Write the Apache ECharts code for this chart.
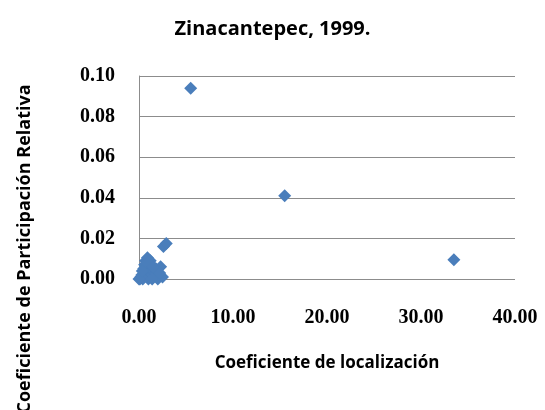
<!DOCTYPE html>
<html>
<head>
<meta charset="utf-8">
<script src="https://cdn.jsdelivr.net/npm/echarts@6/dist/echarts.min.js"></script>
<style>
  html, body { margin: 0; padding: 0; background: #fff; }
  #chart { width: 545px; height: 410px; }
</style>
</head>
<body>
<div id="chart"></div>
<script>
// Coeficiente de localización (x) vs Coeficiente de Participación Relativa (y)
const locCoef = [5.5, 15.5, 33.5, 2.6, 2.9, 0.1, 0.3, 0.5, 0.7, 0.9, 1.1, 1.3, 0.8, 1.6, 2.0, 2.3, 2.5, 1.0, 0.4, 1.8, 0.6, 1.2, 2.2, 0.2, 1.5, 0.0, 0.35, 1.4];
const partCoef = [0.094, 0.041, 0.0095, 0.016, 0.0175, 0.0, 0.002, 0.005, 0.009, 0.0105, 0.008, 0.004, 0.003, 0.002, 0.0, 0.006, 0.001, 0.0, 0.0, 0.005, 0.007, 0.009, 0.003, 0.001, 0.006, 0.0, 0.004, 0.0];
const xTicks = { min: 0, max: 40, step: 10 };
const yTicks = { min: 0, max: 0.1, step: 0.02 };

const TEXT_FONT = "'Open Sans', sans-serif";
const NUM_FONT = "'Liberation Serif', serif";
const MARK_COLOR = "#4a7ebb";
const GRID_COLOR = "#8c8c8c";

const chart = echarts.init(document.getElementById("chart"));

chart.setOption({
  animation: false,
  title: {
    text: "Zinacantepec, 1999.",
    left: "center",
    top: 14,
    textStyle: { fontFamily: TEXT_FONT, fontSize: 20, fontWeight: "bold", color: "#000" },
  },
  grid: { left: 139, right: 30, top: 76, bottom: 131 },
  xAxis: {
    type: "value",
    min: xTicks.min,
    max: xTicks.max,
    interval: xTicks.step,
    name: "Coeficiente de localización",
    nameLocation: "middle",
    nameGap: 76,
    nameTextStyle: { fontFamily: TEXT_FONT, fontSize: 17, fontWeight: "bold", color: "#000" },
    axisLine: { show: false },
    axisTick: { show: false },
    splitLine: { show: false },
    axisLabel: {
      margin: 29,
      fontFamily: NUM_FONT,
      fontSize: 20,
      fontWeight: "bold",
      color: "#000",
      formatter: (v) => v.toFixed(2),
    },
  },
  yAxis: {
    type: "value",
    min: yTicks.min,
    max: yTicks.max,
    interval: yTicks.step,
    axisLine: { show: true, lineStyle: { color: GRID_COLOR, width: 1 } },
    axisTick: { show: false },
    splitLine: { show: true, lineStyle: { color: GRID_COLOR, width: 1 } },
    axisLabel: {
      margin: 24,
      fontFamily: NUM_FONT,
      fontSize: 20,
      fontWeight: "bold",
      color: "#000",
      formatter: (v) => v.toFixed(2),
    },
  },
  graphic: [
    {
      type: "text",
      x: 25,
      y: 249,
      rotation: Math.PI / 2,
      style: {
        text: "Coeficiente de Participación Relativa",
        font: "bold 18px 'Open Sans', sans-serif",
        fill: "#000",
        align: "center",
        verticalAlign: "middle",
      },
    },
  ],
  series: [
    {
      type: "scatter",
      symbol: "diamond",
      symbolSize: 13,
      itemStyle: { color: MARK_COLOR, opacity: 1 },
      data: locCoef.map((x, i) => [x, partCoef[i]]),
    },
  ],
});
</script>
</body>
</html>
